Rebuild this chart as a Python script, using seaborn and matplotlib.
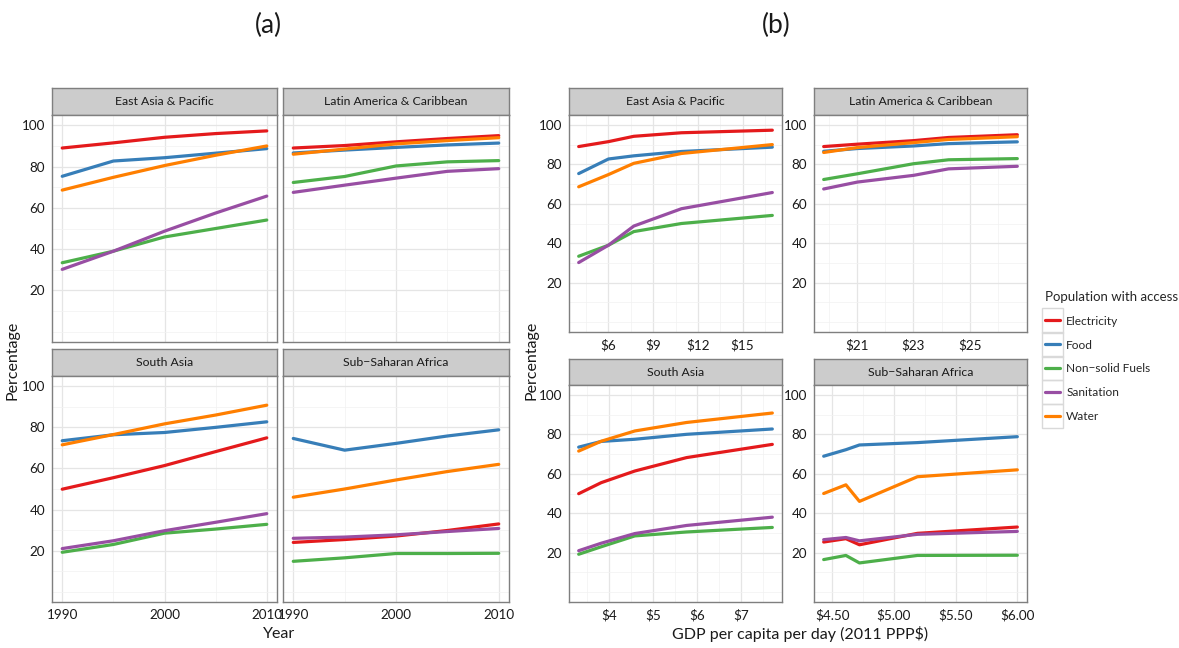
import numpy as np
import pandas as pd
import matplotlib
matplotlib.use('Agg')
import matplotlib.pyplot as plt
import seaborn as sns
from matplotlib.lines import Line2D
from matplotlib.patches import Rectangle

# Data
years = [1990, 1995, 2000, 2005, 2010]
regions = ['East Asia & Pacific', 'Latin America & Caribbean', 'South Asia', 'Sub\u2212Saharan Africa']
indicators = ['Electricity', 'Food', 'Non\u2212solid Fuels', 'Sanitation', 'Water']
colors = ['#E41A1C', '#377EB8', '#4DAF4A', '#984EA3', '#FF7F00']

# GDP per capita per day (2011 PPP$) for each year
gdp_eap = [4.0, 6.0, 7.7, 10.9, 17.0]
gdp_lac = [19.8, 21.0, 23.0, 24.25, 26.7]
gdp_sa = [3.32, 3.83, 4.59, 5.76, 7.7]
gdp_ssa = [4.72, 4.43, 4.61, 5.19, 6.0]

# percentage with access, per region, per indicator (1990..2010)
eap_electricity = [89.0, 91.5, 94.2, 96.0, 97.3]
eap_food = [75.3, 82.7, 84.3, 86.5, 88.7]
eap_fuels = [33.4, 39.0, 45.9, 50.0, 54.1]
eap_sanitation = [30.2, 39.0, 48.7, 57.5, 65.7]
eap_water = [68.6, 74.8, 80.5, 85.5, 90.0]

lac_electricity = [89.0, 90.2, 92.0, 93.6, 95.0]
lac_food = [86.6, 88.0, 89.3, 90.5, 91.4]
lac_fuels = [72.3, 75.2, 80.3, 82.3, 82.9]
lac_sanitation = [67.5, 71.0, 74.4, 77.7, 79.0]
lac_water = [86.0, 88.5, 91.0, 92.6, 94.0]

sa_electricity = [49.9, 55.5, 61.4, 68.2, 74.9]
sa_food = [73.5, 76.4, 77.5, 80.0, 82.7]
sa_fuels = [19.2, 23.0, 28.5, 30.5, 32.8]
sa_sanitation = [21.0, 24.8, 29.7, 33.8, 38.0]
sa_water = [71.5, 76.5, 81.7, 86.0, 90.8]

ssa_electricity = [24.0, 25.4, 27.1, 29.8, 33.0]
ssa_food = [74.6, 68.9, 72.2, 75.8, 78.8]
ssa_fuels = [14.8, 16.5, 18.6, 18.6, 18.7]
ssa_sanitation = [26.0, 26.6, 27.7, 29.3, 30.8]
ssa_water = [46.0, 50.0, 54.4, 58.5, 62.0]

gdp = {regions[0]: gdp_eap, regions[1]: gdp_lac, regions[2]: gdp_sa, regions[3]: gdp_ssa}
values = {
    regions[0]: [eap_electricity, eap_food, eap_fuels, eap_sanitation, eap_water],
    regions[1]: [lac_electricity, lac_food, lac_fuels, lac_sanitation, lac_water],
    regions[2]: [sa_electricity, sa_food, sa_fuels, sa_sanitation, sa_water],
    regions[3]: [ssa_electricity, ssa_food, ssa_fuels, ssa_sanitation, ssa_water],
}

rows = []
for reg in regions:
    for ind, vals in zip(indicators, values[reg]):
        for yr, g, v in zip(years, gdp[reg], vals):
            rows.append({'region': reg, 'indicator': ind, 'year': yr, 'gdp': g, 'value': v})
df = pd.DataFrame(rows)

# tick setup for the GDP panels
gdp_ticks = {
    regions[0]: ([6, 9, 12, 15], [4.5, 7.5, 10.5, 13.5, 16.5], lambda v: f'${v:g}'),
    regions[1]: ([21, 23, 25], [20, 22, 24, 26], lambda v: f'${v:g}'),
    regions[2]: ([4, 5, 6, 7], [3.5, 4.5, 5.5, 6.5, 7.5], lambda v: f'${v:g}'),
    regions[3]: ([4.5, 5.0, 5.5, 6.0], [4.75, 5.25, 5.75], lambda v: f'${v:.2f}'),
}

sns.set_theme(style='white')
plt.rcParams['font.family'] = ['Lato', 'DejaVu Sans']

W, H = 1179, 648
fig = plt.figure(figsize=(W / 100, H / 100), dpi=100)


def px_axes(x0, y0, x1, y1):
    return fig.add_axes([x0 / W, 1 - y1 / H, (x1 - x0) / W, (y1 - y0) / H])


def panel(box, strip_top, title, xcol, xmaj, xmin, xfmt, xlim, show_x, show_y):
    x0, y0, x1, y1 = box
    st = px_axes(x0, strip_top, x1, y0)
    st.set_facecolor('#CCCCCC')
    st.set_xticks([])
    st.set_yticks([])
    for s in st.spines.values():
        s.set_color('#7F7F7F')
        s.set_linewidth(1.0)
    st.text(0.5, 0.5, title, ha='center', va='center', fontsize=8.8, color='#1A1A1A')

    ax = px_axes(x0, y0, x1, y1)
    sub = df[df['region'] == title]
    sns.lineplot(data=sub, x=xcol, y='value', hue='indicator', hue_order=indicators,
                 palette=colors, linewidth=2.3, estimator=None, sort=True,
                 legend=False, ax=ax)
    ax.set_xlim(*xlim)
    ax.set_ylim(-5, 105)
    ax.set_xticks(xmaj)
    ax.set_xticks(xmin, minor=True)
    ax.set_yticks([20, 40, 60, 80, 100])
    ax.set_yticks([0, 10, 30, 50, 70, 90], minor=True)
    ax.grid(which='major', color='#E5E5E5', linewidth=0.9)
    ax.grid(which='minor', color='#F2F2F2', linewidth=0.5)
    ax.set_axisbelow(True)
    ax.set_xlabel('')
    ax.set_ylabel('')
    ax.tick_params(which='major', length=3, color='#333333', labelsize=9.7,
                   labelcolor='#1A1A1A', pad=2, direction='out')
    ax.tick_params(which='minor', length=0)
    ax.xaxis.set_major_formatter(plt.FuncFormatter(lambda v, p: xfmt(v)))
    if not show_x:
        ax.tick_params(axis='x', which='major', labelbottom=False, length=0)
    if not show_y:
        ax.tick_params(axis='y', which='major', labelleft=False, length=0)
    for s in ax.spines.values():
        s.set_color('#7F7F7F')
        s.set_linewidth(1.0)
    return ax


year_fmt = lambda v: f'{v:.0f}'
yr_lim = (1989, 2011)

# (a) panels by year
a_boxes = [(52, 115, 277, 342, 88), (283, 115, 509, 342, 88),
           (52, 376, 277, 602, 349), (283, 376, 509, 602, 349)]
for i, (reg, b) in enumerate(zip(regions, a_boxes)):
    panel(b[:4], b[4], reg, 'year', [1990, 2000, 2010], [1995, 2005], year_fmt,
          yr_lim, show_x=i >= 2, show_y=i % 2 == 0)

# (b) panels by GDP
b_boxes = [(569, 115, 782, 332, 88), (814, 115, 1027, 332, 88),
           (569, 385, 782, 602, 359), (814, 385, 1027, 602, 359)]
for reg, b in zip(regions, b_boxes):
    g = gdp[reg]
    span = max(g) - min(g)
    lim = (min(g) - 0.05 * span, max(g) + 0.05 * span)
    maj, mnr, fmt = gdp_ticks[reg]
    panel(b[:4], b[4], reg, 'gdp', maj, mnr, fmt, lim, show_x=True, show_y=True)

# titles and axis labels
fig.text(268 / W, 1 - 25 / H, '(a)', ha='center', va='center', fontsize=19, color='#1A1A1A')
fig.text(776 / W, 1 - 25 / H, '(b)', ha='center', va='center', fontsize=19, color='#1A1A1A')
fig.text(13 / W, 1 - 360 / H, 'Percentage', rotation=90, ha='center', va='center', fontsize=11.5, color='#1A1A1A')
fig.text(532 / W, 1 - 360 / H, 'Percentage', rotation=90, ha='center', va='center', fontsize=11.5, color='#1A1A1A')
fig.text(279 / W, 1 - 634 / H, 'Year', ha='center', va='center', fontsize=11.5, color='#1A1A1A')
fig.text(800 / W, 1 - 634 / H, 'GDP per capita per day (2011 PPP$)', ha='center', va='center',
         fontsize=11.5, color='#1A1A1A')

# legend with bordered key boxes like ggplot
handles = [Line2D([], [], color=c, linewidth=2.3) for c in colors]
leg = fig.legend(handles, indicators, title='Population with access', loc='upper left',
                 bbox_to_anchor=(1034 / W, 1 - 280 / H), frameon=False, fontsize=8.6,
                 title_fontsize=9.5, handlelength=1.3, labelspacing=1.08,
                 handletextpad=0.5, alignment='left')
fig.canvas.draw()
renderer = fig.canvas.get_renderer()
for ln in leg.get_lines():
    bb = ln.get_window_extent(renderer)
    cx, cy = (bb.x0 + bb.x1) / 2, (bb.y0 + bb.y1) / 2
    fig.add_artist(Rectangle(((cx - 10.5) / W, (cy - 12.2) / H), 21 / W, 24.4 / H,
                             transform=fig.transFigure, facecolor='none',
                             edgecolor='#D9D9D9', linewidth=1.0, zorder=0))

fig.savefig('out.png', dpi=100)
